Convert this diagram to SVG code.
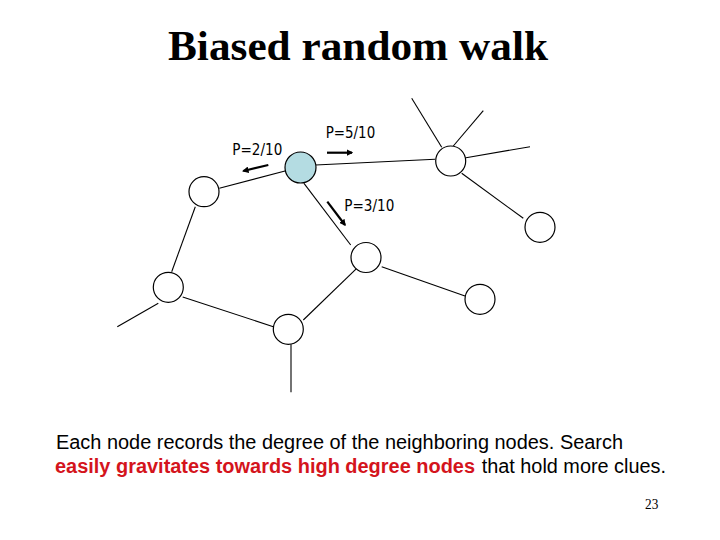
<svg xmlns="http://www.w3.org/2000/svg" width="720" height="540" viewBox="0 0 720 540">
<defs>
<style>
.node{fill:#ffffff;stroke:#000000;stroke-width:1.2}
.edge{stroke:#000000;stroke-width:1.1;fill:none}
.arr{stroke:#000000;stroke-width:2.2;fill:none}
.p{font-family:"DejaVu Sans","Liberation Sans",sans-serif;font-size:15px;fill:#000000}
.body{font-family:"Liberation Sans",Arial,sans-serif;font-size:19.5px;fill:#000000}
.red{fill:#d4141c;font-weight:bold}
</style>
<marker id="ah" viewBox="0 0 10 10" refX="8" refY="5" markerWidth="3" markerHeight="3" orient="auto" markerUnits="strokeWidth">
<path d="M0,0 L10,5 L0,10 z" fill="#000000"/>
</marker>
</defs>
<rect width="720" height="540" fill="#ffffff"/>
<text x="358" y="60" text-anchor="middle" font-family="Liberation Serif,'Times New Roman',serif" font-weight="bold" font-size="43" textLength="380" lengthAdjust="spacingAndGlyphs">Biased random walk</text>
<g id="connectors">
<line class="edge" x1="195.3" y1="206.7" x2="171.7" y2="271.7"/>
<line class="edge" x1="158.3" y1="303.3" x2="117.3" y2="326.7"/>
<line class="edge" x1="182.7" y1="297" x2="273.3" y2="326.7"/>
<line class="edge" x1="291" y1="344.3" x2="291" y2="392.3"/>
<line class="edge" x1="303.3" y1="320" x2="356.7" y2="268.3"/>
<line class="edge" x1="381.7" y1="266.7" x2="465" y2="296"/>
<line class="edge" x1="304" y1="183.3" x2="350.7" y2="245"/>
<line class="edge" x1="285" y1="171" x2="219.3" y2="188.3"/>
<line class="edge" x1="315.5" y1="165" x2="435" y2="159.3"/>
<line class="edge" x1="441.7" y1="147.3" x2="411.7" y2="98.3"/>
<line class="edge" x1="453.3" y1="146" x2="483.3" y2="110.7"/>
<line class="edge" x1="466" y1="157.7" x2="530" y2="146.7"/>
<line class="edge" x1="461.7" y1="173.3" x2="523.3" y2="218.3"/>
<line class="arr" x1="327" y1="152.7" x2="352" y2="152.7" marker-end="url(#ah)"/>
<line class="arr" x1="268.3" y1="165" x2="243.3" y2="171" marker-end="url(#ah)"/>
<line class="arr" x1="327.3" y1="201.7" x2="345" y2="225" marker-end="url(#ah)"/>
</g>
<g id="n-current"><circle cx="300.5" cy="167.5" r="15.5" fill="#b4dce2" stroke="#000000" stroke-width="1.2"/></g>
<g id="n-left"><circle class="node" cx="204" cy="191.7" r="15"/></g>
<g id="n-upright"><circle class="node" cx="450.7" cy="161" r="15"/></g>
<g id="n-farright"><circle class="node" cx="540" cy="227.3" r="15"/></g>
<g id="n-middle"><circle class="node" cx="366" cy="257.5" r="15"/></g>
<g id="n-leftlow"><circle class="node" cx="168.3" cy="287.3" r="15"/></g>
<g id="n-bottom"><circle class="node" cx="288.3" cy="329.3" r="15"/></g>
<g id="n-right"><circle class="node" cx="480" cy="299.3" r="15"/></g>
<g id="labels">
<text class="p" x="232.3" y="155.3" textLength="50" lengthAdjust="spacingAndGlyphs">P=2/10</text>
<text class="p" x="325.7" y="138" textLength="49.5" lengthAdjust="spacingAndGlyphs">P=5/10</text>
<text class="p" x="344.3" y="211.3" textLength="50" lengthAdjust="spacingAndGlyphs">P=3/10</text>
</g>
<text class="body" x="56" y="448.7" textLength="567" lengthAdjust="spacingAndGlyphs">Each node records the degree of the neighboring nodes. Search</text>
<text class="body red" x="55" y="473" textLength="420" lengthAdjust="spacingAndGlyphs">easily gravitates towards high degree nodes</text>
<text class="body" x="481.7" y="473" textLength="184.3" lengthAdjust="spacingAndGlyphs">that hold more clues.</text>
<text x="645" y="509" font-family="Liberation Serif,'Times New Roman',serif" font-size="14" textLength="13.3" lengthAdjust="spacingAndGlyphs">23</text>
</svg>
